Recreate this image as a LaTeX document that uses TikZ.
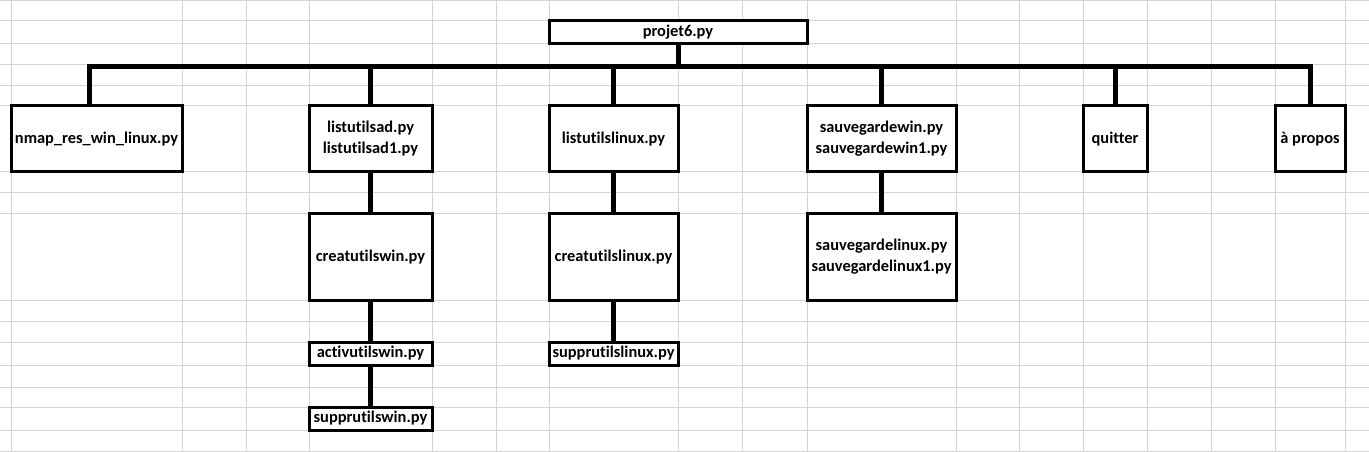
\documentclass[tikz,border=0pt]{standalone}
\usepackage{fontspec}
\setmainfont{Carlito}[Ligatures = NoCommon]
\usepackage{tikz}
\definecolor{gridgray}{RGB}{212,212,212}
\tikzset{filebox/.style = {draw, fill = white, line width = 2.25pt, inner sep = 0,
                           align = center, font = \bfseries\fontsize{12.3}{15.75}\selectfont}}
\tikzset{cells/.style 2 args = {minimum width = #1*0.75pt, minimum height = #2*0.75pt}}
\tikzset{link/.style = {line width = 3.75pt}}
\tikzset{gridline/.style = {draw = gridgray, line width = 0.75pt}}

\begin{document}
\begin{tikzpicture}[x = 0.75pt, y = -0.75pt]
      \useasboundingbox (0, 0) rectangle (1369, 452);
      \fill [white] (0, 0) rectangle (1369, 452);

      \foreach \x in {11, 182, 246, 309, 432, 496, 549, 678, 742, 807, 956, 1019, 1083, 1147, 1211, 1275, 1345}
        \draw [gridline] (\x, 0) -- (\x, 452);
      \foreach \y in {0.5, 21, 44, 65, 86, 106, 172, 193, 214, 300, 321, 342, 365, 387, 407, 430, 451}
        \draw [gridline] (0, \y) -- (1369, \y);

      \node [filebox, cells = {258}{23}] (projet) at (678, 32.5) {projet6.py};

      \node [filebox, cells = {171}{66}] (nmap) at (96.5, 139) {nmap\_res\_win\_linux.py};
      \node [filebox, cells = {123}{66}] (listad) at (370.5, 139) {listutilsad.py\\listutilsad1.py};
      \node [filebox, cells = {129}{66}] (listlinux) at (613.5, 139) {listutilslinux.py};
      \node [filebox, cells = {149}{66}] (sauvwin) at (881.5, 139) {sauvegardewin.py\\sauvegardewin1.py};
      \node [filebox, cells = {64}{66}] (quitter) at (1115, 139) {quitter};
      \node [filebox, cells = {70}{66}] (apropos) at (1310, 139) {à propos};

      \node [filebox, cells = {123}{86}] (creatwin) at (370.5, 257) {creatutilswin.py};
      \node [filebox, cells = {129}{86}] (creatlinux) at (613.5, 257) {creatutilslinux.py};
      \node [filebox, cells = {149}{86}] (sauvlinux) at (881.5, 257) {sauvegardelinux.py\\sauvegardelinux1.py};

      \node [filebox, cells = {123}{23}] (activwin) at (370.5, 353.5) {activutilswin.py};
      \node [filebox, cells = {129}{23}] (supprlinux) at (613.5, 353.5) {supprutilslinux.py};
      \node [filebox, cells = {123}{23}] (supprwin) at (370.5, 418.5) {supprutilswin.py};

      \coordinate (bus) at (680, 67);
      \draw [link] (projet.south) -- (projet.south |- bus);
      \draw [link] ([xshift = -5.6pt] nmap.north) |- (apropos.north |- bus) -- (apropos.north);
      \foreach \n in {listad, listlinux, sauvwin, quitter}
        \draw [link] (\n.north) -- (\n.north |- bus);

      \foreach \a/\b in {listad/creatwin, creatwin/activwin, activwin/supprwin,
                         listlinux/creatlinux, creatlinux/supprlinux, sauvwin/sauvlinux}
        \draw [link] (\a) -- (\b);
    \end{tikzpicture}
\end{document}
